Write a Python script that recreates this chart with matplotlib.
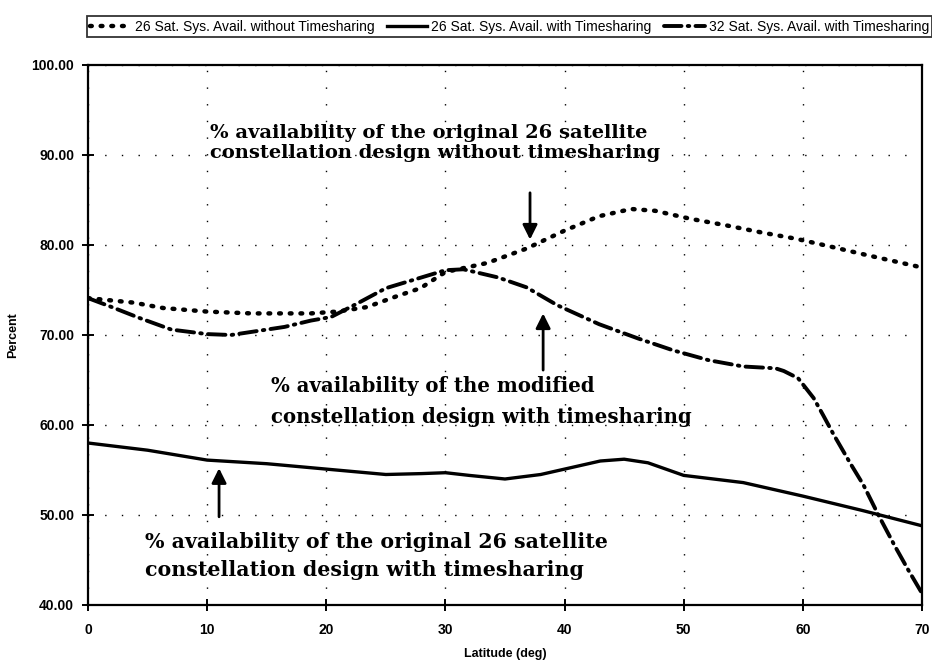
import matplotlib
matplotlib.use("Agg")
import matplotlib.pyplot as plt

# latitude (deg) / percent availability
lat_26_no_ts = [0, 3.8, 6.3, 10, 13.7, 18.7, 20.9, 23.4, 25.9, 27.9, 30, 33.5, 36.8,
                40, 42.9, 45.6, 47.6, 50.6, 53.5, 56.5, 59.4, 62.4, 65.3, 70]
pct_26_no_ts = [74.1, 73.6, 73.0, 72.6, 72.4, 72.4, 72.6, 73.1, 74.3, 75.2, 77.0, 78.0, 79.6,
                81.6, 83.2, 84.0, 83.8, 82.9, 82.2, 81.4, 80.7, 79.8, 78.9, 77.5]

lat_26_ts = [0, 5, 10, 15, 20, 25, 28, 30, 32, 35, 38, 40, 43, 45, 47, 50, 55, 60, 65, 70]
pct_26_ts = [58.0, 57.2, 56.1, 55.7, 55.1, 54.5, 54.6, 54.7, 54.4, 54.0, 54.5, 55.1, 56.0,
             56.2, 55.8, 54.4, 53.6, 52.1, 50.5, 48.8]

lat_32_ts = [0, 2, 4.3, 7, 10, 12, 14, 16.5, 18.7, 20.4, 22.6, 25, 28, 30, 31.5, 34.4, 36.8,
             39.4, 42.9, 46.2, 49.1, 52.1, 55, 57.7, 58.4, 59.6, 60.9, 61.7, 62.6, 64, 65.1,
             66.3, 67.7, 68.8, 70]
pct_32_ts = [74.1, 73.1, 71.9, 70.6, 70.1, 70.0, 70.4, 70.9, 71.6, 72.0, 73.5, 75.2, 76.4,
             77.2, 77.3, 76.4, 75.3, 73.3, 71.2, 69.6, 68.3, 67.2, 66.5, 66.3, 66.0, 65.2,
             63.0, 61.1, 58.9, 55.7, 53.3, 50.1, 46.6, 44.0, 41.3]

labels = ["26 Sat. Sys. Avail. without Timesharing",
          "26 Sat. Sys. Avail. with Timesharing",
          "32 Sat. Sys. Avail. with Timesharing"]

sans = "Liberation Sans"
serif = "DejaVu Serif"

fig = plt.figure(figsize=(9.32, 6.71), dpi=100)
ax = fig.add_axes([88 / 932, 1 - 605 / 671, 834 / 932, 540 / 671])

l1, = ax.plot(lat_26_no_ts, pct_26_no_ts, color="black", lw=3.2,
              linestyle=(0, (0.4, 2.0)), dash_capstyle="round", label=labels[0])
l2, = ax.plot(lat_26_ts, pct_26_ts, color="black", lw=2.4, label=labels[1])
l3, = ax.plot(lat_32_ts, pct_32_ts, color="black", lw=2.8,
              linestyle=(0, (4.5, 1.6, 0.4, 1.6)), dash_capstyle="round", label=labels[2])

ax.set_xlim(0, 70)
ax.set_ylim(40, 100)
ax.set_xticks(range(0, 71, 10))
ax.set_yticks(range(40, 101, 10))
ax.set_yticklabels([f"{v:.2f}" for v in range(40, 101, 10)])

# sparse dotted grid like the old spreadsheet printout
ax.grid(True, color="black", lw=1.0, linestyle=(0, (1, 11)))

for s in ax.spines.values():
    s.set_linewidth(1.6)

ax.tick_params(direction="inout", length=8, width=1.4, pad=6)
for t in ax.get_xticklabels() + ax.get_yticklabels():
    t.set_fontfamily(sans)
    t.set_fontweight("bold")
    t.set_fontsize(10)
ax.tick_params(axis="x", pad=9)

ax.set_xlabel("Latitude (deg)", fontfamily=sans, fontweight="bold", fontsize=9, labelpad=8)
ax.set_ylabel("Percent", fontfamily=sans, fontweight="bold", fontsize=9, labelpad=9)

leg = fig.legend(handles=[l1, l2, l3], loc="lower left", ncol=3,
                 bbox_to_anchor=(87 / 932, 1 - 37 / 671),
                 frameon=True, fancybox=False, edgecolor="black", handlelength=2.9,
                 handletextpad=0.3, borderpad=0.25, borderaxespad=0, columnspacing=0.9,
                 prop={"family": sans, "size": 10})
leg.get_frame().set_linewidth(1.3)

# annotations
tkw = dict(fontfamily=serif, fontweight="bold", ha="left", va="center",
           multialignment="left")
ax.text(10.2, 91.3, "% availability of the original 26 satellite\n"
        "constellation design without timesharing", fontsize=14, linespacing=1.15, **tkw)
ax.text(15.4, 62.6, "% availability of the modified\n"
        "constellation design with timesharing", fontsize=14.2, linespacing=1.65, **tkw)
ax.text(4.8, 45.5, "% availability of the original 26 satellite\n"
        "constellation design with timesharing", fontsize=14.8, linespacing=1.5, **tkw)

akw = dict(arrowstyle="-|>", color="black", lw=2, mutation_scale=22, shrinkA=0, shrinkB=0)
ax.annotate("", xy=(37.1, 80.6), xytext=(37.1, 85.8), arrowprops=akw)
ax.annotate("", xy=(38.2, 72.4), xytext=(38.2, 66.1), arrowprops=akw)
ax.annotate("", xy=(11.0, 55.2), xytext=(11.0, 49.8), arrowprops=akw)

fig.savefig("out.png", dpi=100)
